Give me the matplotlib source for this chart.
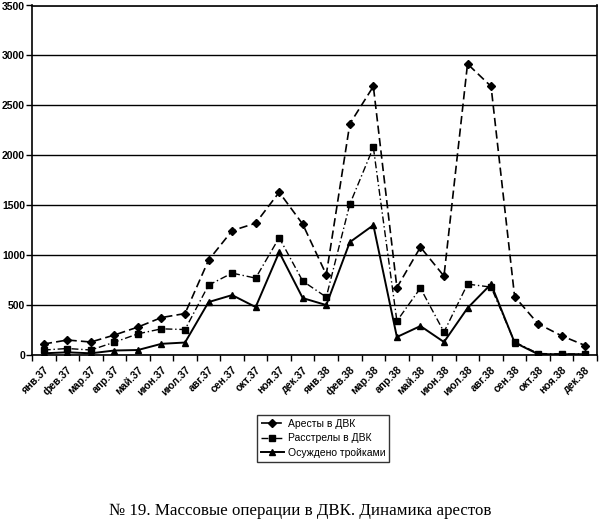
import matplotlib
matplotlib.use("Agg")
import matplotlib.pyplot as plt
from matplotlib.ticker import MultipleLocator, FixedLocator

plt.rcParams['font.family'] = ['Liberation Sans', 'DejaVu Sans']

months = ["янв.37", "фев.37", "мар.37", "апр.37", "май.37", "июн.37", "июл.37",
          "авг.37", "сен.37", "окт.37", "ноя.37", "дек.37",
          "янв.38", "фев.38", "мар.38", "апр.38", "май.38", "июн.38", "июл.38",
          "авг.38", "сен.38", "окт.38", "ноя.38", "дек.38"]

arrests = [110, 150, 130, 200, 280, 375, 415, 950, 1245, 1320, 1630, 1310,
           805, 2315, 2690, 675, 1080, 790, 2915, 2690, 585, 312, 192, 95]
executions = [50, 65, 50, 128, 212, 262, 255, 700, 820, 770, 1175, 740,
              580, 1510, 2080, 340, 670, 230, 710, 680, 130, 15, 10, 10]
troikas = [17, 27, 17, 45, 50, 112, 125, 530, 600, 480, 1030, 570,
           500, 1130, 1300, 180, 290, 130, 470, 710, 125, 8, 8, 8]

labels = ["Аресты в ДВК", "Расстрелы в ДВК", "Осуждено тройками"]
caption = "№ 19. Массовые операции в ДВК. Динамика арестов"

fig = plt.figure(figsize=(6.0, 5.21), dpi=100)
ax = fig.add_axes([32/600, 1 - 355/521, 565/600, 349.5/521])

x = list(range(len(months)))
ax.plot(x, arrests, color='black', linestyle=(0, (5, 2.5)), linewidth=1.2,
        marker='D', markersize=3.6, label=labels[0])
ax.plot(x, executions, color='black', linestyle=(0, (5, 2, 1, 2)), linewidth=1.0,
        marker='s', markersize=4.2, label=labels[1])
ax.plot(x, troikas, color='black', linestyle='-', linewidth=1.4,
        marker='^', markersize=4.5, label=labels[2])

ax.set_xlim(-0.5, len(months) - 0.5)
ax.set_ylim(0, 3500)
ax.yaxis.set_major_locator(MultipleLocator(500))
ax.grid(axis='y', color='black', linewidth=1.0)
ax.set_axisbelow(True)

ax.set_xticks(x)
ax.set_xticklabels(months, rotation=45, ha='right', rotation_mode='anchor',
                   fontsize=7.6, fontweight='bold')
ax.tick_params(axis='x', which='major', length=0, pad=7)
ax.xaxis.set_minor_locator(FixedLocator([i - 0.5 for i in range(len(months) + 1)]))
ax.tick_params(axis='x', which='minor', length=4, width=1, direction='out')
ax.tick_params(axis='y', length=4, width=1, direction='out', labelsize=7.5, pad=1)
for t in ax.get_yticklabels():
    t.set_fontweight('bold')

for s in ax.spines.values():
    s.set_color('black')
    s.set_linewidth(1.2)

leg = fig.legend(loc='upper left', bbox_to_anchor=(257/600, 1 - 415/521),
                 frameon=True, fancybox=False, edgecolor='black',
                 fontsize=7.5, handlelength=2.2, handletextpad=0.4,
                 borderpad=0.35, labelspacing=0.45, borderaxespad=0)
leg.get_frame().set_linewidth(1.0)

fig.text(0.5, 1 - 511/521, caption, ha='center', va='center',
         fontsize=12.2, family='Liberation Serif')

fig.savefig("out.png", dpi=100)
